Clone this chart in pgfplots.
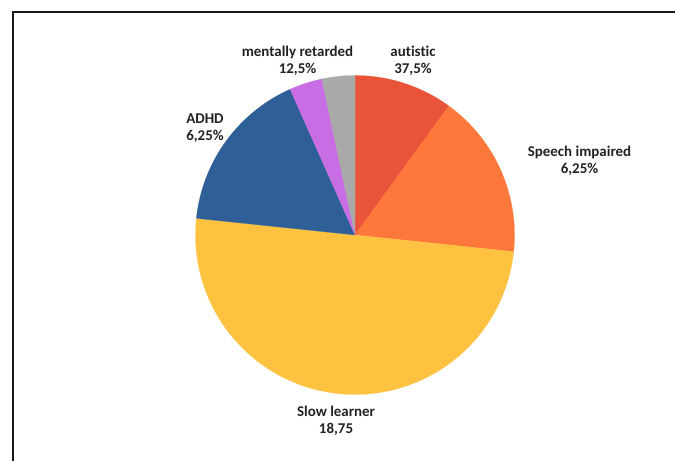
\documentclass[border=0pt]{standalone}
\usepackage{pgfplots}
\pgfplotsset{compat=1.18}
\usepackage{pgfplotstable}
\usepackage{fontspec}
\setmainfont{Carlito}[Ligatures={NoCommon}]
\definecolor{cAut}{HTML}{E9533A}
\definecolor{cSpe}{HTML}{FE783B}
\definecolor{cSlo}{HTML}{FEC140}
\definecolor{cAdh}{HTML}{2E5F96}
\definecolor{cMen}{HTML}{C86DE4}
\definecolor{cOth}{HTML}{A9A9A9}
\definecolor{labc}{HTML}{222222}

% slice sizes (clockwise from 12 o'clock)
\pgfplotstableread{
label value
autistic 3
speech 5
slow 15
adhd 5
mental 1
other 1
}\piedata

\begin{document}%
\begin{tikzpicture}
\def\total{0}%
\foreach \r in {0,...,5}{%
  \pgfplotstablegetelem{\r}{value}\of\piedata
  \pgfmathsetmacro\tmp{\total+\pgfplotsretval}%
  \xdef\total{\tmp}}%
\def\cum{90}%
\foreach \r/\n in {0/A,1/B,2/C,3/D,4/E,5/F}{%
  \pgfplotstablegetelem{\r}{value}\of\piedata
  \pgfmathsetmacro\tmp{\cum-360*\pgfplotsretval/\total}%
  \expandafter\xdef\csname sa\n\endcsname{\cum}%
  \expandafter\xdef\csname ea\n\endcsname{\tmp}%
  \xdef\cum{\tmp}}%
\begin{axis}[name=ax, at={(0,0)}, anchor=south west, scale only axis,
  width=675bp, height=461bp, xmin=0, xmax=675, ymin=0, ymax=461,
  hide axis, clip=false]
\addplot[draw=cAut, line width=0.2pt, fill=cAut, domain=\eaA:\saA, samples=91, variable=\t] ({355+159.5*cos(\t)}, {226+159.5*sin(\t)}) -- (axis cs:355,226) -- cycle;
\addplot[draw=cSpe, line width=0.2pt, fill=cSpe, domain=\eaB:\saB, samples=91, variable=\t] ({355+159.5*cos(\t)}, {226+159.5*sin(\t)}) -- (axis cs:355,226) -- cycle;
\addplot[draw=cSlo, line width=0.2pt, fill=cSlo, domain=\eaC:\saC, samples=181, variable=\t] ({355+159.5*cos(\t)}, {226+159.5*sin(\t)}) -- (axis cs:355,226) -- cycle;
\addplot[draw=cAdh, line width=0.2pt, fill=cAdh, domain=\eaD:\saD, samples=91, variable=\t] ({355+159.5*cos(\t)}, {226+159.5*sin(\t)}) -- (axis cs:355,226) -- cycle;
\addplot[draw=cMen, line width=0.2pt, fill=cMen, domain=\eaE:\saE, samples=31, variable=\t] ({355+159.5*cos(\t)}, {226+159.5*sin(\t)}) -- (axis cs:355,226) -- cycle;
\addplot[draw=cOth, line width=0.2pt, fill=cOth, domain=\eaF:\saF, samples=31, variable=\t] ({355+159.5*cos(\t)}, {226+159.5*sin(\t)}) -- (axis cs:355,226) -- cycle;
\tikzset{lab/.style={align=center, text=labc, font=\fontsize{15}{17}\selectfont\bfseries, inner sep=0pt}}
\node[lab] at (axis cs:297.5,400) {mentally retarded\\12,5\%};
\node[lab] at (axis cs:413,400) {autistic\\37,5\%};
\node[lab] at (axis cs:579.5,300) {Speech impaired\\6,25\%};
\node[lab] at (axis cs:205,333) {ADHD\\6,25\%};
\node[lab] at (axis cs:336,40) {Slow learner\\18,75};
\end{axis}
\draw[line width=1.6bp, color=black!90] (13bp,-5bp) -- (13bp,449bp) -- (690bp,449bp);
\pgfresetboundingbox
\path[use as bounding box] (0,0) rectangle (675bp,461bp);
\end{tikzpicture}%
\end{document}
